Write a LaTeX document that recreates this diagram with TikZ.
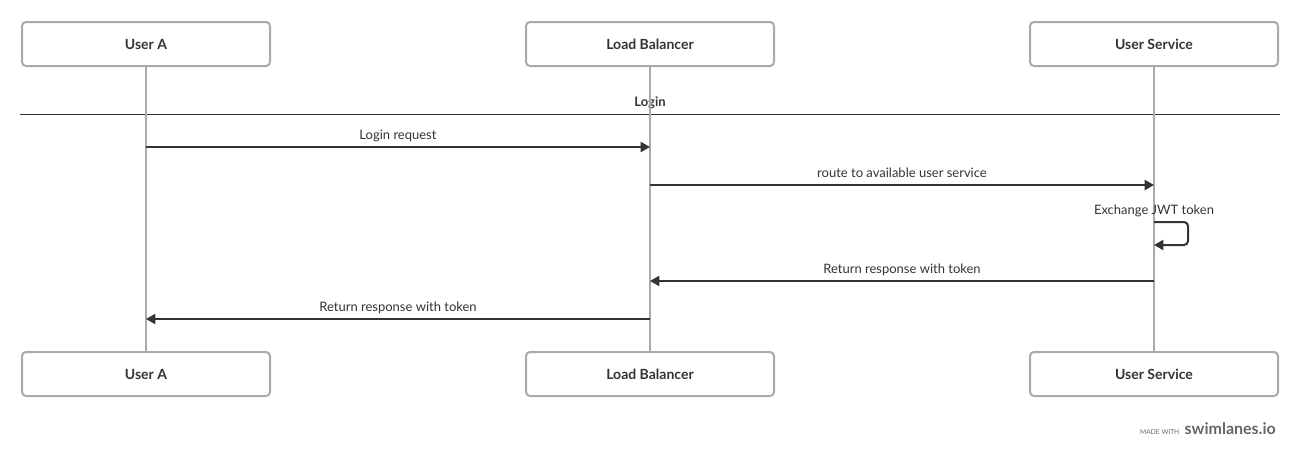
\documentclass[tikz,border=0pt]{standalone}
\usepackage{fontspec}
\setmainfont{Lato}
\usetikzlibrary{arrows.meta, positioning}
\definecolor{Tinta}{HTML}{333333}
\definecolor{GrisCaja}{HTML}{AAAAAA}
\definecolor{GrisMarca}{HTML}{666666}

\begin{document}
\begin{tikzpicture}[x=0.75pt, y=-0.75pt, font=\fontsize{9.75}{11}\selectfont,
	actor/.style={draw=GrisCaja, line width=1.5pt, rounded corners=3pt, fill=white,
		minimum width=186pt, minimum height=33pt, text=Tinta,
		font=\fontsize{10.5}{12}\selectfont\bfseries},
	vida/.style={draw=GrisCaja, line width=1.5pt},
	msg/.style={draw=Tinta, line width=1.5pt, -{Triangle[length=7pt, width=7.5pt]}},
	etq/.style={text=Tinta, anchor=base, inner sep=0pt, yshift=6pt}]

	\useasboundingbox (0,0) rectangle (1300,458);

	% bloque "Login"
	\draw[Tinta, line width=0.75pt] (20,114) -- (1280,114);
	\node[text=Tinta, font=\fontsize{9.75}{11}\selectfont\bfseries, anchor=base]
		(sec) at (650,106) {Login};

	\foreach \nom/\x/\txt in {ua/146/User A, lb/650/Load Balancer, us/1154/User Service}{
		\node[actor] (\nom) at (\x,44) {\txt};
		\node[actor] (\nom-b) at (\x,374) {\txt};
		\draw[vida] (\nom) -- (\nom-b);
	}

	% mensajes
	\draw[msg] (ua |- 0,147) -- node[etq] {Login request} (lb |- 0,147);
	\draw[msg] (lb |- 0,185) -- node[etq] {route to available user service} (us |- 0,185);
	\node[etq] (jwt) at (us |- 0,222) {Exchange JWT token};
	\draw[msg, rounded corners=3pt] (us |- 0,222) -- ++(34,0) -- ++(0,23) -- (us |- 0,245);
	\draw[msg] (us |- 0,281) -- node[etq] {Return response with token} (lb |- 0,281);
	\draw[msg] (lb |- 0,319) -- node[etq] {Return response with token} (ua |- 0,319);

	\node[anchor=base east, text=GrisMarca, inner sep=0pt] (marca) at (1276,434)
		{{\fontsize{5}{6}\selectfont MADE WITH}\hspace{4pt}{\fontsize{12}{14}\selectfont\bfseries swimlanes.io}};
\end{tikzpicture}
\end{document}
